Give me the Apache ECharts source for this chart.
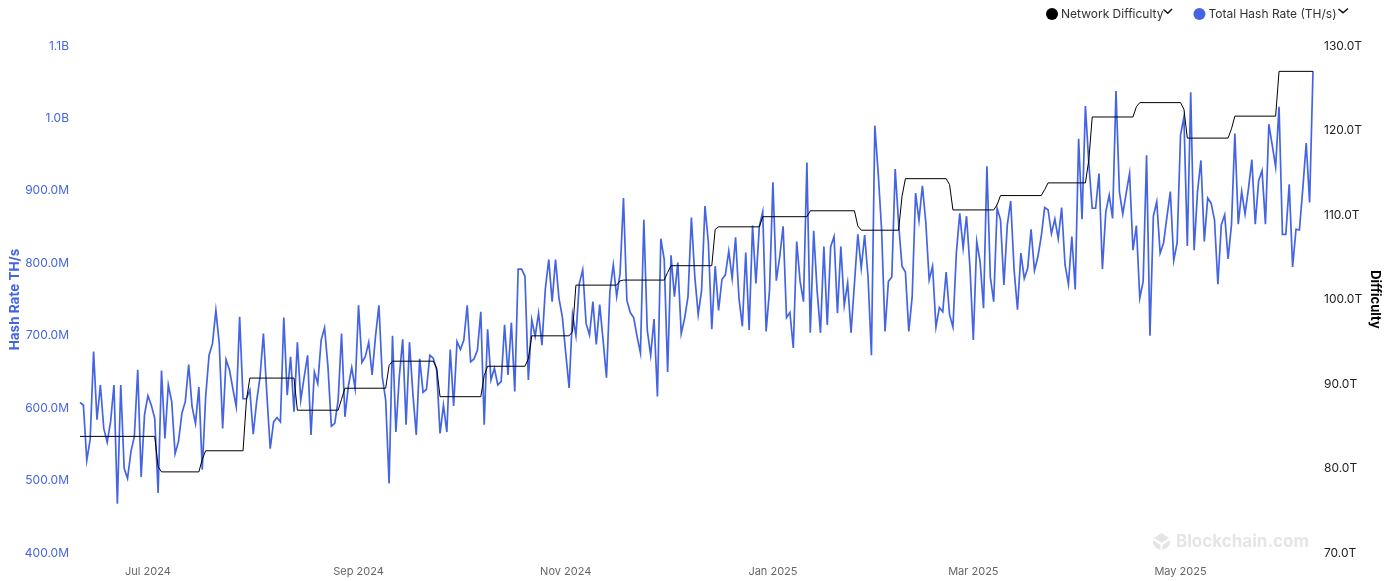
<!DOCTYPE html>
<html><head><meta charset="utf-8">
<style>html,body{margin:0;padding:0;background:#fff}#c{width:1392px;height:581px}</style>
<script src="https://cdn.jsdelivr.net/npm/echarts@6/dist/echarts.min.js"></script>
</head><body><div id="c"></div>
<script>
const firstDay = '2024-06-11T00:00:00';
const hashRate = [
608,604,528,557,678,584,632,572,553,581,632,468,632,517,503,540,561,653,505,591,
617,604,586,483,652,558,632,609,537,554,593,609,660,602,579,629,515,616,673,689,
735,689,572,667,653,627,602,726,613,613,625,564,609,643,703,620,544,581,587,581,
725,618,671,595,691,611,643,673,563,650,634,694,711,657,575,579,611,703,588,630,
656,627,742,663,671,691,646,699,742,643,611,496,700,567,643,695,577,691,620,563,
668,622,626,673,669,653,565,604,567,681,603,692,681,694,742,664,668,680,733,577,
709,639,655,632,637,715,646,718,623,792,792,782,639,722,699,731,687,765,805,747,
805,752,726,676,628,729,700,772,791,717,701,747,688,743,694,642,761,798,754,786,
890,749,732,725,699,676,860,708,673,723,616,834,805,650,811,754,801,703,724,754,
863,782,729,763,879,828,709,796,735,778,784,817,779,836,752,713,815,708,852,772,
851,871,706,763,912,776,809,851,725,732,683,830,775,747,939,704,845,763,704,823,
715,823,837,731,823,742,773,704,772,840,793,839,781,673,990,924,846,706,775,781,
930,855,796,788,706,754,897,859,907,857,777,796,712,739,733,788,729,712,814,869,
821,865,795,694,830,802,738,934,781,747,876,860,770,853,886,791,736,814,779,793,
847,790,809,837,877,874,841,861,834,877,798,771,837,764,972,861,1017,938,876,876,
924,792,871,894,862,1038,899,868,897,924,818,852,752,775,949,700,865,885,814,828,
864,899,804,828,977,1002,824,1036,818,899,942,830,890,883,860,771,853,867,806,853,
979,854,899,868,903,943,854,914,928,854,992,963,933,1016,840,840,909,795,847,846,
903,966,884,1065
];
const difficultyDay = [0,22,23,24,35,36,37,48,49,50,63,64,76,77,78,90,91,92,104,105,106,118,119,120,131,132,133,144,145,146,158,159,160,172,173,174,186,187,188,200,201,214,215,228,229,230,241,242,243,255,256,257,269,270,271,283,284,285,296,297,298,310,311,312,324,325,326,338,339,340,352,353,363];
const difficultyT = [83.8,83.8,80.2,79.6,79.6,81.1,82.1,82.1,88.1,90.7,90.7,86.9,86.9,88.2,89.5,89.5,92.2,92.7,92.7,91.9,88.5,88.5,91.0,92.1,92.1,93.0,95.7,95.7,96.2,101.7,101.7,102.2,102.3,102.3,103.2,104.0,104.0,108.3,108.6,108.6,109.8,109.8,110.5,110.5,108.7,108.2,108.2,112.2,114.3,114.3,113.6,110.6,110.6,111.2,112.3,112.3,113.0,113.8,113.8,116.5,121.6,121.6,122.8,123.3,123.3,122.5,119.1,119.1,120.2,121.7,121.7,127.0,127.0];
const xTickDates = ['2024-07-01T00:00:00','2024-09-01T00:00:00','2024-11-01T00:00:00','2025-01-01T00:00:00','2025-03-01T00:00:00','2025-05-01T00:00:00'];
const xTickLabels = ['Jul 2024','Sep 2024','Nov 2024','Jan 2025','Mar 2025','May 2025'];
const seriesNames = ['Network Difficulty','Total Hash Rate (TH/s)'];

const BLUE = '#4464e4', FONT = 'Inter, "Noto Sans", sans-serif';
const t0 = new Date(firstDay);
const dayAt = i => { const d = new Date(t0); d.setDate(d.getDate() + i); return d.getTime(); };
const hashData = hashRate.map((v, i) => [dayAt(i), v]);
const diffData = difficultyDay.map((d, i) => [dayAt(d), difficultyT[i]]);
const tickTimes = xTickDates.map(s => new Date(s).getTime());

const chart = echarts.init(document.getElementById('c'), null, {renderer: 'canvas'});
const wm = '#e5e5e5';
chart.setOption({
  animation: false,
  backgroundColor: '#fff',
  textStyle: {fontFamily: FONT},
  grid: {left: 80, right: 79, top: 46, bottom: 28, containLabel: false, outerBoundsMode: 'none'},
  legend: {
    top: 3, left: 1041, itemWidth: 12, itemHeight: 12, itemGap: 30, icon: 'circle',
    selectedMode: false,
    textStyle: {fontFamily: FONT, fontSize: 12, color: '#333', padding: [0, 0, 0, -2]},
    data: seriesNames
  },
  xAxis: {
    type: 'value', min: dayAt(0), max: dayAt(hashRate.length - 1),
    axisLine: {show: false}, axisTick: {show: false}, splitLine: {show: false},
    axisLabel: {
      customValues: tickTimes, margin: 13, fontSize: 11, color: '#666', fontFamily: FONT,
      hideOverlap: false,
      formatter: v => xTickLabels[tickTimes.indexOf(+v)] || ''
    }
  },
  yAxis: [
    {type: 'value', min: 400, max: 1100, interval: 100, position: 'left',
     name: 'Hash Rate TH/s', nameLocation: 'middle', nameGap: 58, nameMoveOverlap: false,
     nameTextStyle: {color: BLUE, fontWeight: 'bold', fontSize: 13.5, fontFamily: FONT},
     axisLine: {show: false}, axisTick: {show: false}, splitLine: {show: false},
     axisLabel: {color: BLUE, fontSize: 12, margin: 11, padding: [3, 0, 0, 0], fontFamily: FONT,
       formatter: v => v >= 1000 ? (v / 1000).toFixed(1) + 'B' : v.toFixed(1) + 'M'}},
    {type: 'value', min: 70, max: 130, interval: 10, position: 'right',
     name: 'Difficulty', nameLocation: 'middle', nameGap: 55, nameRotate: -90, nameMoveOverlap: false,
     nameTextStyle: {color: '#000', fontWeight: 'bold', fontSize: 13, fontFamily: FONT},
     axisLine: {show: false}, axisTick: {show: false}, splitLine: {show: false},
     axisLabel: {color: '#222', fontSize: 12, margin: 11, padding: [3, 0, 0, 0], fontFamily: FONT,
       formatter: v => v.toFixed(1) + 'T'}}
  ],
  series: [
    {name: seriesNames[1], type: 'line', yAxisIndex: 0, data: hashData, showSymbol: false, symbol: 'circle',
     lineStyle: {color: BLUE, width: 1.7, join: 'miter'}, itemStyle: {color: BLUE}, z: 2},
    {name: seriesNames[0], type: 'line', yAxisIndex: 1, data: diffData, showSymbol: false, symbol: 'circle',
     lineStyle: {color: '#000', width: 1}, itemStyle: {color: '#000'}, z: 3}
  ],
  graphic: [
    {type: 'polyline', shape: {points: [[1163.5,9.5],[1167.8,13.2],[1172,9]]}, style: {stroke: '#111', lineWidth: 1.5, fill: null}},
    {type: 'polyline', shape: {points: [[1338.5,9],[1343,12.7],[1348,8.5]]}, style: {stroke: '#111', lineWidth: 1.5, fill: null}},
    {type: 'text', left: 1176, top: 533, style: {text: 'Blockchain.com', fontFamily: FONT, fontWeight: 'bold', fontSize: 17, fill: wm}},
    {type: 'polygon', shape: {points: [[1161.5,533],[1169,538],[1161.5,543],[1154,538]]}, style: {fill: wm}},
    {type: 'polygon', shape: {points: [[1153,540],[1160.5,545],[1160.5,550],[1156,548],[1153,544]]}, style: {fill: wm}},
    {type: 'polygon', shape: {points: [[1170,540],[1162.5,545],[1162.5,550],[1167,548],[1170,544]]}, style: {fill: wm}}
  ]
});
</script></body></html>
